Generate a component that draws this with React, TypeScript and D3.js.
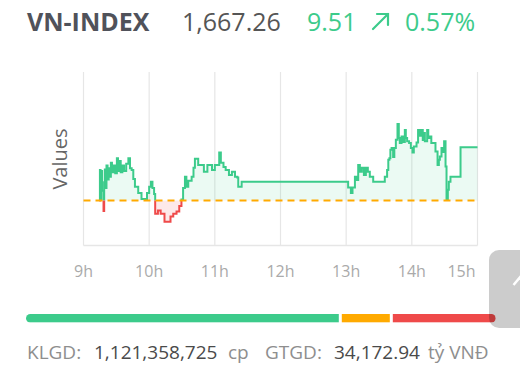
import React from "react";
import * as d3 from "d3";

// ---- data ----
const refValue = 1657.75;
const lastValue = 1667.26;
const changeValue = 9.51;
const changePct = 0.57;
// minutes after 09:00
const times = [14.4, 15, 15.6, 16.2, 17, 18.3, 18.9, 19.5, 20.2, 21, 22, 23, 24, 25, 26, 27.5, 29, 30.5, 31.5, 33, 34, 35.5, 37, 39, 41, 42.5, 44, 45.5, 47, 50, 53, 58, 60, 61.6, 63, 64.5, 65.5, 68, 70.5, 74, 79.5, 82, 85, 87.5, 89.5, 91, 92.7, 94, 95.7, 98.8, 100.5, 101.8, 104.8, 110, 113.2, 117.4, 120, 124, 125.5, 127.9, 129.9, 132.9, 135.6, 138.4, 140.5, 141.4, 144.5, 241.8, 244.3, 245.8, 248, 249.3, 251, 252.5, 254.3, 256.2, 258, 259.8, 261.6, 264.7, 275.3, 277.4, 278.5, 279.5, 280.4, 281.5, 282.9, 284, 285.4, 286.9, 288.1, 289, 290.6, 292.2, 293.6, 294.5, 295.7, 297.5, 299.1, 300.6, 301.8, 304.3, 305.7, 307.3, 308.7, 310, 311, 311.9, 314, 315, 316.4, 317.8, 321.6, 323.5, 324.7, 325.6, 327.1, 328.3, 329.5, 330.8, 331.7, 332.9, 333.8, 335.3, 344.5, 360];
const values = [1657.75, 1663.2, 1658.0, 1663.0, 1659.5, 1655.9, 1661.0, 1663.3, 1660.0, 1664.0, 1661.5, 1663.5, 1662.0, 1664.5, 1662.8, 1664.0, 1662.6, 1665.3, 1663.0, 1664.8, 1662.8, 1664.0, 1663.0, 1664.3, 1665.3, 1663.5, 1663.2, 1661.6, 1660.2, 1659.1, 1658.05, 1659.1, 1660.2, 1661.1, 1660.0, 1658.9, 1655.4, 1656.0, 1655.4, 1654.0, 1654.9, 1655.4, 1655.8, 1656.8, 1657.95, 1660.0, 1662.0, 1660.2, 1661.3, 1662.0, 1663.6, 1665.2, 1664.1, 1662.9, 1664.1, 1663.2, 1664.1, 1666.3, 1664.5, 1663.75, 1663.2, 1662.3, 1662.9, 1662.0, 1661.85, 1660.2, 1661.1, 1660.1, 1659.1, 1660.1, 1662.0, 1661.4, 1664.1, 1662.9, 1663.6, 1662.3, 1663.6, 1662.9, 1662.0, 1661.1, 1662.0, 1663.2, 1665.0, 1665.3, 1666.8, 1667.1, 1665.5, 1667.1, 1668.6, 1671.4, 1668.9, 1668.0, 1669.15, 1668.2, 1670.3, 1668.9, 1668.3, 1668.0, 1667.1, 1666.3, 1667.4, 1668.1, 1670.3, 1669.3, 1670.3, 1668.55, 1669.8, 1668.3, 1670.3, 1668.9, 1669.15, 1668.0, 1666.5, 1664.1, 1665.0, 1665.6, 1667.1, 1666.4, 1668.3, 1663.8, 1658.05, 1659.7, 1661.1, 1662.0, 1667.26, 1667.26];
const tickMinutes = [0, 60, 120, 180, 240, 300, 360];
const tickLabels = ["9h", "10h", "11h", "12h", "13h", "14h", "15h"];
const breadthLabels = ["up", "unchanged", "down"];
const breadthCounts = [228, 35, 75];
const volumeText = "1,121,358,725";
const valueText = "34,172.94";

const GREEN = "#3ccb8b";
const RED = "#ef4a4a";
const ORANGE = "#ffaa00";
const FONT = "'Open Sans', 'Noto Sans', sans-serif";

export default function App() {
  const x = d3.scaleLinear().domain([0, 360]).range([83.5, 477.5]);
  const y = d3.scaleLinear().domain([1649.75, 1680.65]).range([245.5, 72]);
  const data = times.map((t, i) => ({ t, v: values[i] }));
  const yRef = y(refValue);

  const line = d3.line<any>().x((d) => x(d.t)).y((d) => y(d.v)).curve(d3.curveStepAfter);
  const area = d3
    .area<any>()
    .x((d) => x(d.t))
    .y0(yRef)
    .y1((d) => y(d.v))
    .curve(d3.curveStepAfter);

  const linePath = line(data) || "";
  const areaPath = area(data) || "";

  // breadth bar
  const barX0 = 26;
  const barX1 = 495.7;
  const gap = 3;
  const total = d3.sum(breadthCounts);
  const usable = barX1 - barX0 - gap * (breadthCounts.length - 1);
  const bx = d3.scaleLinear().domain([0, total]).range([0, usable]);
  let acc = barX0;
  const segs = breadthCounts.map((c, i) => {
    const w = bx(c);
    const s = { x: acc, w, color: [GREEN, ORANGE, RED][i], key: breadthLabels[i] };
    acc += w + gap;
    return s;
  });

  return (
    <svg
      width={520}
      height={376}
      style={{ position: "absolute", left: 0, top: 0, background: "#fff" }}
      fontFamily={FONT}
    >
      <defs>
        <clipPath id="above">
          <rect x={0} y={0} width={520} height={yRef} />
        </clipPath>
        <clipPath id="below">
          <rect x={0} y={yRef} width={520} height={376 - yRef} />
        </clipPath>
        <clipPath id="barclip">
          <rect x={barX0} y={314} width={barX1 - barX0} height={8.6} rx={4.3} />
        </clipPath>
      </defs>

      {/* header */}
      <text x={27} y={31} fontSize={25} fontWeight={700} fill="#50525a">VN-INDEX</text>
      <text x={182} y={31} fontSize={25} fill="#555">{d3.format(",.2f")(lastValue)}</text>
      <text x={307} y={31} fontSize={25} fill={GREEN}>{changeValue.toFixed(2)}</text>
      <g stroke={GREEN} strokeWidth={2.2} fill="none" strokeLinecap="round">
        <line x1={373} y1={29} x2={388} y2={14} />
        <polyline points="377,14 388,14 388,25" />
      </g>
      <text x={405} y={31} fontSize={25} fill={GREEN}>{changePct.toFixed(2)}%</text>

      {/* grid */}
      {tickMinutes.map((m) => (
        <line key={m} x1={x(m)} x2={x(m)} y1={72} y2={245.5} stroke="#e6e6e6" strokeWidth={1.2} />
      ))}
      <line x1={83.5} x2={477.5} y1={245.5} y2={245.5} stroke="#e6e6e6" strokeWidth={1.5} />

      {/* area + line */}
      <path d={areaPath} fill={GREEN} fillOpacity={0.1} clipPath="url(#above)" />
      <path d={areaPath} fill={RED} fillOpacity={0.12} clipPath="url(#below)" />
      <path d={linePath} fill="none" stroke={GREEN} strokeWidth={2} clipPath="url(#above)" />
      <path d={linePath} fill="none" stroke={RED} strokeWidth={2} clipPath="url(#below)" />

      {/* reference */}
      <line x1={83.5} x2={477.5} y1={yRef} y2={yRef} stroke={ORANGE} strokeWidth={2} strokeDasharray="7,5" />

      {/* y label */}
      <text transform={`translate(67,159) rotate(-90)`} textAnchor="middle" fontSize={20} fill="#666">Values</text>

      {/* x ticks */}
      {tickMinutes.map((m, i) => (
        <text
          key={m}
          x={i === tickMinutes.length - 1 ? x(m) - 2 : x(m)}
          y={277}
          textAnchor={i === tickMinutes.length - 1 ? "end" : "middle"}
          fontSize={16}
          fill="#aaa"
        >
          {tickLabels[i]}
        </text>
      ))}

      {/* breadth bar */}
      <g clipPath="url(#barclip)">
        {segs.map((s) => (
          <rect key={s.key} x={s.x} y={314} width={s.w} height={8.6} fill={s.color} />
        ))}
      </g>

      {/* footer */}
      <g fontSize={19}>
        <text x={27} y={358.5} fill="#8e8e8e">KLGD:</text>
        <text x={94} y={358.5} fill="#4a4a4a">{volumeText}</text>
        <text x={228} y={358.5} fill="#8e8e8e">cp</text>
        <text x={265} y={358.5} fill="#8e8e8e">GTGD:</text>
        <text x={334} y={358.5} fill="#4a4a4a">{valueText}</text>
        <text x={428} y={358.5} fill="#8e8e8e">tỷ VNĐ</text>
      </g>

      {/* partial floating button */}
      <rect x={489} y={250} width={50} height={78} rx={10} fill="#000" fillOpacity={0.2} />
      <line x1={513.5} y1={285} x2={521} y2={276} stroke="#fff" strokeWidth={2.5} />
    </svg>
  );
}
